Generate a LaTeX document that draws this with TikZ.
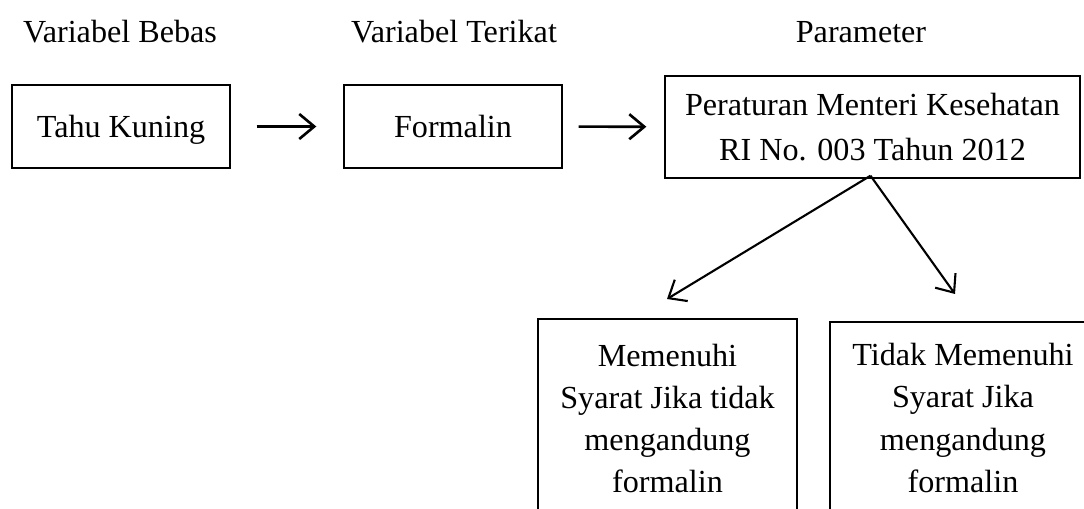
\documentclass[tikz,border=0pt]{standalone}
\usepackage{fontspec}
\setmainfont{Liberation Serif}
\usepackage{tikz}
\usetikzlibrary{arrows.meta,positioning,calc}

\tikzset{
    kotak/.style={draw, line width=0.8pt, align=center, inner sep=0pt, font=\fontsize{18.3}{24}\selectfont},
    judul/.style={font=\fontsize{18.3}{24}\selectfont},
    panah/.style={->, line width=1.2pt}
}

\begin{document}
\begin{tikzpicture}[x=0.02cm, y=-0.02cm, >={Straight Barb[length=3mm,width=5mm]}]
        \useasboundingbox (0,0) rectangle (1084,509);
        \clip (0,0) rectangle (1084,509);

        % Column headings
        \node[judul] (bebas) at (120,32) {Variabel Bebas};
        \node[judul] (terikat) at (454,32) {Variabel Terikat};
        \node[judul] (parameter) at (861,32) {Parameter};

        % Top row
        \node[kotak, minimum width=4.36cm, minimum height=1.66cm, text height=15pt, text depth=2pt] (tahu) at (121,126.5) {Tahu Kuning};
        \node[kotak, minimum width=4.36cm, minimum height=1.66cm, text height=15pt, text depth=2pt] (formalin) at (453,126.5) {Formalin};
        \node[kotak, minimum width=8.3cm, minimum height=2.04cm, font=\fontsize{18.3}{25.5}\selectfont] (permenkes) at (872.5,127) {Peraturan Menteri Kesehatan\\RI No. 003 Tahun 2012};

        % Result boxes (cut by the lower edge)
        \node[kotak, minimum width=5.18cm, minimum height=3.98cm] (memenuhi) at (667.5,418.5) {Memenuhi\\Syarat Jika tidak\\mengandung\\formalin};
        \node[kotak, minimum width=5.32cm, minimum height=3.84cm] (tidak) at (963,418) {Tidak Memenuhi\\Syarat Jika\\mengandung\\formalin};

        % Arrows
        \draw[panah, line width=1.5pt, shorten <=0.52cm, shorten >=0.54cm] (tahu) -- (formalin);
        \draw[panah, line width=1.5pt, shorten <=0.32cm, shorten >=0.36cm] (formalin) -- (permenkes);
        \coordinate (kiri) at (667,299);
        \coordinate (kanan) at (955,294);
        \draw[panah] ($(permenkes.south)+(-2,-3)$) -- (kiri);
        \draw[panah] ($(permenkes.south)+(-2,-3)$) -- (kanan);
    \end{tikzpicture}
\end{document}
